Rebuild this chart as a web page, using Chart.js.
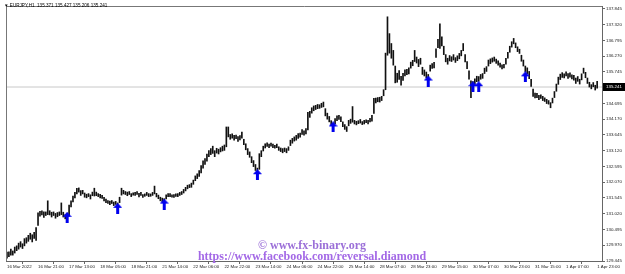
<!DOCTYPE html>
<html>
<head>
<meta charset="utf-8">
<script src="https://cdn.jsdelivr.net/npm/chart.js@4.4.0/dist/chart.umd.min.js"></script>
<style>
  body { margin: 0; background: #fff; }
  canvas { display: block; }
</style>
</head>
<body>
<canvas id="chart" width="625" height="274"></canvas>
<script>
const symbolTitle = "EURJPY,H1  135.371 135.427 135.206 135.241";

const timeLabels = ["16 Mar 2022", "16 Mar 21:00", "17 Mar 13:00", "18 Mar 05:00", "18 Mar 21:00",
  "21 Mar 14:00", "22 Mar 06:00", "22 Mar 22:00", "23 Mar 14:00", "24 Mar 06:00", "24 Mar 22:00",
  "25 Mar 14:00", "28 Mar 07:00", "28 Mar 23:00", "29 Mar 15:00", "30 Mar 07:00", "30 Mar 23:00",
  "31 Mar 15:00", "1 Apr 07:00", "1 Apr 23:00"];

const priceTicks = [129.445, 129.970, 130.495, 131.020, 131.545, 132.070, 132.595, 133.120,
  133.645, 134.170, 134.695, 135.745, 136.270, 136.795, 137.320, 137.845];

// H1 bars, low / high
const low = [
  129.54,129.59,129.64,129.64,129.71,129.79,129.84,129.91,129.86,129.95,
  130.04,130.10,130.17,130.08,130.20,130.13,130.63,130.94,130.98,130.90,
  130.96,130.99,130.98,130.91,130.96,130.87,130.92,130.96,130.99,130.91,
  130.85,130.86,130.95,131.25,131.41,131.55,131.68,131.74,131.63,131.68,
  131.57,131.55,131.59,131.51,131.62,131.61,131.62,131.59,131.55,131.53,
  131.45,131.39,131.36,131.32,131.36,131.29,131.33,131.24,131.39,131.64,
  131.68,131.66,131.62,131.66,131.59,131.64,131.63,131.66,131.58,131.63,
  131.56,131.60,131.63,131.59,131.60,131.63,131.68,131.58,131.52,131.45,
  131.42,131.38,131.51,131.59,131.59,131.57,131.56,131.60,131.59,131.63,
  131.66,131.71,131.78,131.85,131.89,131.90,132.00,132.12,132.19,132.26,
  132.38,132.54,132.66,132.77,132.92,132.99,133.03,132.92,133.04,133.01,
  133.08,133.11,133.13,133.25,133.58,133.50,133.54,133.47,133.52,133.43,
  133.48,133.54,133.32,133.15,132.99,132.90,132.72,132.59,132.46,132.38,
  132.50,132.92,133.11,133.21,133.26,133.22,133.27,133.22,133.20,133.22,
  133.13,133.09,133.05,133.09,133.05,133.13,133.29,133.37,133.44,133.47,
  133.53,133.57,133.66,133.64,133.68,133.81,134.23,134.37,134.45,134.49,
  134.52,134.53,134.56,134.58,134.28,134.17,134.08,133.96,133.89,134.01,
  134.12,134.16,134.09,133.92,133.83,133.76,133.95,134.03,134.07,134.01,
  133.98,134.02,134.04,133.99,134.01,134.05,134.01,134.08,134.10,134.36,
  134.71,134.75,134.74,134.79,134.95,135.15,136.30,136.37,136.20,135.97,
  135.38,135.40,135.49,135.30,135.46,135.61,135.65,135.68,135.87,135.95,
  136.09,136.04,135.92,136.00,135.66,135.61,135.54,135.50,135.77,135.86,
  135.88,136.23,136.55,136.53,136.61,136.32,136.08,136.00,136.11,136.09,
  136.14,136.06,136.12,136.18,136.28,136.45,136.08,135.85,135.50,134.89,
  135.22,135.33,135.42,135.43,135.50,135.53,135.69,135.76,135.94,136.02,
  136.07,136.10,136.03,135.97,135.90,135.84,135.88,136.00,136.20,136.40,
  136.57,136.68,136.55,136.42,136.36,136.10,135.94,135.74,135.68,135.52,
  135.26,134.93,134.88,134.89,134.82,134.86,134.79,134.76,134.69,134.67,
  134.55,134.71,134.89,135.10,135.33,135.49,135.56,135.54,135.61,135.53,
  135.57,135.51,135.47,135.36,135.43,135.34,135.48,135.70,135.55,135.36,
  135.24,135.18,135.25,135.14,135.206
];

const high = [
  129.74,129.75,129.84,129.78,129.91,129.95,130.04,130.09,130.02,130.19,
  130.22,130.30,130.37,130.32,130.40,130.56,131.05,131.10,131.12,131.08,
  131.08,131.45,131.12,131.07,131.08,131.03,131.06,131.08,131.38,131.07,
  130.99,131.04,131.31,131.45,131.61,131.73,131.87,131.88,131.79,131.80,
  131.71,131.67,131.69,131.65,131.74,131.87,131.74,131.69,131.67,131.63,
  131.57,131.51,131.46,131.44,131.46,131.41,131.43,131.38,131.57,131.87,
  131.80,131.76,131.74,131.76,131.69,131.72,131.73,131.76,131.70,131.73,
  131.66,131.68,131.73,131.69,131.68,131.73,131.94,131.70,131.64,131.57,
  131.54,131.52,131.65,131.69,131.69,131.65,131.66,131.68,131.69,131.73,
  131.76,131.83,131.90,131.97,131.99,132.04,132.14,132.28,132.35,132.46,
  132.62,132.78,132.86,133.01,133.12,133.19,133.27,133.12,133.20,133.17,
  133.22,133.27,133.31,133.91,133.91,133.66,133.68,133.63,133.64,133.59,
  133.62,133.74,133.50,133.35,133.19,133.08,132.92,132.79,132.66,132.54,
  133.02,133.12,133.27,133.35,133.38,133.34,133.37,133.34,133.30,133.34,
  133.25,133.21,133.19,133.21,133.19,133.25,133.47,133.53,133.58,133.63,
  133.69,133.71,133.82,133.78,133.86,134.40,134.43,134.55,134.61,134.63,
  134.66,134.65,134.70,134.74,134.52,134.37,134.26,134.12,134.05,134.19,
  134.28,134.30,134.25,134.08,133.99,133.92,134.13,134.17,134.59,134.13,
  134.10,134.12,134.16,134.09,134.13,134.15,134.13,134.20,134.30,134.86,
  134.87,134.89,134.90,134.93,135.15,136.37,137.58,137.02,136.69,136.46,
  135.94,135.70,135.79,135.60,135.70,135.81,135.83,135.88,136.07,136.13,
  136.46,136.24,136.16,136.20,135.90,135.81,135.74,135.66,135.97,136.02,
  136.06,136.51,136.83,137.35,136.91,136.60,136.32,136.20,136.29,136.25,
  136.32,136.22,136.28,136.36,136.46,136.69,136.32,136.09,135.78,135.45,
  135.42,135.51,135.60,135.59,135.66,135.69,135.87,135.92,136.14,136.18,
  136.21,136.24,136.17,136.11,136.04,135.98,136.00,136.20,136.40,136.60,
  136.75,136.86,136.71,136.58,136.50,136.30,136.14,135.94,135.88,135.76,
  135.50,135.17,135.04,135.03,134.96,134.98,134.93,134.88,134.83,134.79,
  134.72,134.87,135.09,135.34,135.57,135.67,135.72,135.68,135.75,135.69,
  135.71,135.65,135.63,135.54,135.59,135.50,135.68,135.87,135.73,135.54,
  135.40,135.32,135.39,135.30,135.427
];

// buy arrows: bar index and price where the arrow sits
const signalBars = [31, 57, 81, 129, 168, 217, 240, 243, 267];
const signalPrice = [130.90, 131.20, 131.34, 132.32, 133.91, 135.44, 135.25, 135.25, 135.58];

const lastPrice = 135.241;

function makeArrow() {
  const c = document.createElement('canvas');
  c.width = 9;
  c.height = 11;
  const g = c.getContext('2d');
  g.fillStyle = '#0000ee';
  g.beginPath();
  g.moveTo(4.5, 0);
  g.lineTo(9, 5);
  g.lineTo(6, 5);
  g.lineTo(6, 11);
  g.lineTo(3, 11);
  g.lineTo(3, 5);
  g.lineTo(0, 5);
  g.closePath();
  g.fill();
  return c;
}

const chartDecor = {
  id: 'chartDecor',
  beforeDraw(chart) {
    const ctx = chart.ctx;
    ctx.save();
    ctx.fillStyle = '#fff';
    ctx.fillRect(0, 0, chart.width, chart.height);
    ctx.restore();
  },
  afterDraw(chart) {
    const { ctx, chartArea: a, scales: { y } } = chart;
    ctx.save();
    // frame on left and top
    ctx.strokeStyle = '#777';
    ctx.lineWidth = 1;
    ctx.beginPath();
    ctx.moveTo(a.left + 0.5, a.bottom);
    ctx.lineTo(a.left + 0.5, a.top + 0.5);
    ctx.lineTo(a.right, a.top + 0.5);
    ctx.stroke();

    // symbol line
    ctx.font = '4.6px "Liberation Sans"';
    ctx.fillStyle = '#000';
    ctx.textBaseline = 'middle';
    ctx.textAlign = 'left';
    ctx.fillText('\u25BC ' + symbolTitle, 4, 6);

    // last price box
    const py = y.getPixelForValue(lastPrice);
    ctx.fillStyle = '#000';
    ctx.fillRect(603, Math.round(py) - 4, 22, 8);
    ctx.fillStyle = '#fff';
    ctx.font = '4.4px "Liberation Sans"';
    ctx.fillText(lastPrice.toFixed(3), 606, py);

    // watermark
    ctx.font = 'bold 12px "Liberation Serif"';
    ctx.textAlign = 'center';
    ctx.textBaseline = 'alphabetic';
    ctx.fillStyle = '#9b6fd8';
    ctx.fillText('\u00A9 www.fx-binary.org', 312, 249);
    ctx.fillStyle = '#a368e6';
    ctx.fillText('https://www.facebook.com/reversal.diamond', 312, 260);
    ctx.restore();
  }
};

const axisFont = { size: 4.4, family: 'Liberation Sans' };

new Chart(document.getElementById('chart'), {
  type: 'bar',
  data: {
    datasets: [
      {
        type: 'line',
        data: [{ x: -0.5, y: lastPrice }, { x: 306.5, y: lastPrice }],
        borderColor: '#c8c8c8',
        borderWidth: 1,
        pointRadius: 0,
        order: 2
      },
      {
        type: 'bar',
        data: low.map((v, i) => ({ x: i, y: [v, high[i]] })),
        backgroundColor: '#111',
        barThickness: 1,
        order: 1
      },
      {
        type: 'line',
        data: signalBars.map((b, k) => ({ x: b, y: signalPrice[k] })),
        showLine: false,
        pointStyle: makeArrow(),
        pointRadius: 5,
        order: 0
      }
    ]
  },
  options: {
    responsive: false,
    animation: false,
    devicePixelRatio: 1,
    events: [],
    layout: { padding: { left: 2, top: 2, right: 0, bottom: 0 } },
    plugins: {
      legend: { display: false },
      tooltip: { enabled: false }
    },
    scales: {
      x: {
        type: 'linear',
        min: -0.5,
        max: 306.5,
        offset: false,
        grid: { drawOnChartArea: false, drawTicks: true, tickLength: 3, color: '#666' },
        border: { color: '#666' },
        afterBuildTicks: s => { s.ticks = timeLabels.map((_, k) => ({ value: k * 16 })); },
        ticks: {
          autoSkip: false,
          maxRotation: 0,
          align: 'start',
          padding: 0,
          font: axisFont,
          color: '#222',
          callback: v => timeLabels[Math.round(v / 16)]
        },
        afterFit: s => { s.height = 13; }
      },
      y: {
        position: 'right',
        min: 129.445,
        max: 137.94,
        grid: { drawOnChartArea: false, drawTicks: true, tickLength: 3, color: '#666' },
        border: { color: '#666' },
        afterBuildTicks: s => { s.ticks = priceTicks.map(v => ({ value: v })); },
        ticks: {
          autoSkip: false,
          padding: 1,
          font: axisFont,
          color: '#222',
          callback: v => v.toFixed(3)
        },
        afterFit: s => { s.width = 23; }
      }
    }
  },
  plugins: [chartDecor]
});
</script>
</body>
</html>
